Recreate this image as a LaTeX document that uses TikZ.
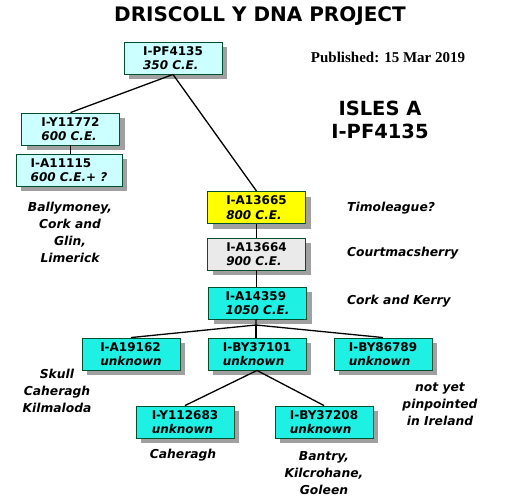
\documentclass[tikz,border=0pt]{standalone}
\usepackage{fontspec}
\setmainfont{DejaVu Sans}
\newfontfamily\serifb{Liberation Serif}
\usetikzlibrary{shadows}
\definecolor{bordg}{RGB}{0,80,48}
\definecolor{lcyan}{RGB}{204,255,255}
\definecolor{dcyan}{RGB}{30,240,228}
\definecolor{yel}{RGB}{255,255,0}
\definecolor{lgray}{RGB}{234,234,234}
\definecolor{shad}{RGB}{160,160,160}
\tikzset{
  hbox/.style={draw=bordg, line width=0.9pt, minimum width=98pt, minimum height=32pt,
    inner sep=0pt, align=left, font=\fontsize{12}{14.5}\selectfont,
    drop shadow={shadow xshift=5pt, shadow yshift=-5pt, fill=shad, opacity=1}},
  conn/.style={line width=1.3pt, black},
  side/.style={font=\fontsize{12.3}{17}\selectfont\bfseries\itshape, align=center, inner sep=0pt},
}
\newcommand{\bx}[2]{\textbf{#1}\\\textbf{\textit{#2}}}
\begin{document}
\begin{tikzpicture}[x=1pt,y=-1pt]
\useasboundingbox[fill=white] (0,0) rectangle (507,501);
% title
\node[font=\fontsize{20}{22}\selectfont\bfseries] (title) at (260,16) {DRISCOLL Y DNA PROJECT};
\node[font=\fontsize{15}{16}\selectfont\serifb\bfseries] (pub) at (388,57) {Published: 15 Mar 2019};
\node[font=\fontsize{19.5}{23}\selectfont\bfseries, align=center] (isles) at (380,120) {ISLES A\\I-PF4135};
% boxes
\node[hbox, fill=lcyan] (pf) at (173,58) {\bx{I-PF4135}{350 C.E.}};
\node[hbox, fill=lcyan] (y1) at (70.5,129) {\bx{I-Y11772}{600 C.E.}};
\node[hbox, fill=lcyan, minimum width=106pt] (a1) at (69,170) {\bx{I-A11115}{600 C.E.+ ?}};
\node[hbox, fill=yel] (a65) at (256.5,207.5) {\bx{I-A13665}{800 C.E.}};
\node[hbox, fill=lgray] (a64) at (256.5,254) {\bx{I-A13664}{900 C.E.}};
\node[hbox, fill=dcyan] (a59) at (257.5,303) {\bx{I-A14359}{1050 C.E.}};
\node[hbox, fill=dcyan] (a62) at (131,354) {\bx{I-A19162}{unknown}};
\node[hbox, fill=dcyan] (by1) at (257,354) {\bx{I-BY37101}{unknown}};
\node[hbox, fill=dcyan] (by8) at (383,354) {\bx{I-BY86789}{unknown}};
\node[hbox, fill=dcyan] (y112) at (185,422) {\bx{I-Y112683}{unknown}};
\node[hbox, fill=dcyan] (by2) at (324,422) {\bx{I-BY37208}{unknown}};
% connectors
\draw[conn] (pf.south) -- (y1.north);
\draw[conn] (pf.south) -- (a65.north);
\draw[conn] (y1.south) -- (a1.north-|y1.south);
\draw[conn] (a65.south) -- (a64.north-|a65.south);
\draw[conn] (a64.south) -- (a59.north-|a64.south);
\coordinate (fan) at (256,325);
\draw[conn] (a59.south-|fan) -- (fan) -- (a62.north);
\draw[conn] (fan) -- (by8.north);
\draw[conn] (fan) -- (by1.north-|fan);
\draw[conn] (by1.south) -- (y112.north);
\draw[conn] (by1.south) -- (by2.north);
% side labels
\node[side, anchor=west] (tim) at (347,208) {Timoleague?};
\node[side, anchor=west] (court) at (347,253) {Courtmacsherry};
\node[side, anchor=west] (ck) at (347,301) {Cork and Kerry};
\node[side] (bal) at (70,232) {Ballymoney,\\Cork and\\Glin,\\Limerick};
\node[side] (sk) at (57,391) {Skull\\Caheragh\\Kilmaloda};
\node[side] (nyp) at (440,404) {not yet\\pinpointed\\in Ireland};
\node[side] (cah) at (183,455) {Caheragh};
\node[side] (ban) at (324,473) {Bantry,\\Kilcrohane,\\Goleen};
\end{tikzpicture}
\end{document}
